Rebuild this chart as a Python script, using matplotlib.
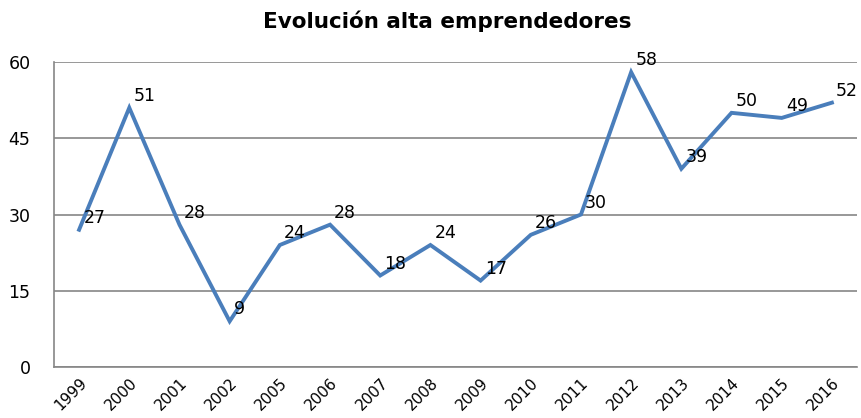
import matplotlib
matplotlib.use("Agg")
import matplotlib.pyplot as plt
import matplotlib.transforms as mtransforms

years = ["1999", "2000", "2001", "2002", "2005", "2006", "2007", "2008",
         "2009", "2010", "2011", "2012", "2013", "2014", "2015", "2016"]
altas = [27, 51, 28, 9, 24, 28, 18, 24, 17, 26, 30, 58, 39, 50, 49, 52]
yticks = [0, 15, 30, 45, 60]

fig = plt.figure(figsize=(8.61, 4.18), dpi=100)
ax = fig.add_axes([54 / 861, 1 - 367 / 418, (857 - 54) / 861, (367 - 62) / 418])

x = list(range(len(years)))
ax.plot(x, altas, color="#4a7ebb", linewidth=2.8, solid_joinstyle="miter")
for xi, v in zip(x, altas):
    ax.annotate(str(v), (xi, v), xytext=(3, 5), textcoords="offset points",
                fontsize=12.5, ha="left", va="baseline")

ax.set_xlim(-0.5, len(years) - 0.5)
ax.set_ylim(0, 60)
ax.set_yticks(yticks)
ax.set_yticklabels([str(t) for t in yticks], fontsize=12.5)
ax.set_xticks(x)
ax.set_xticklabels(years, rotation=45, ha="right", rotation_mode="anchor", fontsize=11)
shift = mtransforms.ScaledTranslation(10 / 100, 0, fig.dpi_scale_trans)
for lbl in ax.get_xticklabels():
    lbl.set_transform(lbl.get_transform() + shift)
ax.tick_params(axis="both", length=0)
ax.tick_params(axis="x", pad=6)
ax.tick_params(axis="y", pad=17)
ax.grid(axis="y", color="#868686", linewidth=1.2)
ax.set_axisbelow(True)
for side in ("top", "right"):
    ax.spines[side].set_visible(False)
for side in ("left", "bottom"):
    ax.spines[side].set_color("#868686")
    ax.spines[side].set_linewidth(1.2)

fig.text(0.52, 0.975, "Evolución alta emprendedores", ha="center", va="top",
         fontsize=15.5, fontweight="bold")

fig.savefig("out.png", dpi=100)
